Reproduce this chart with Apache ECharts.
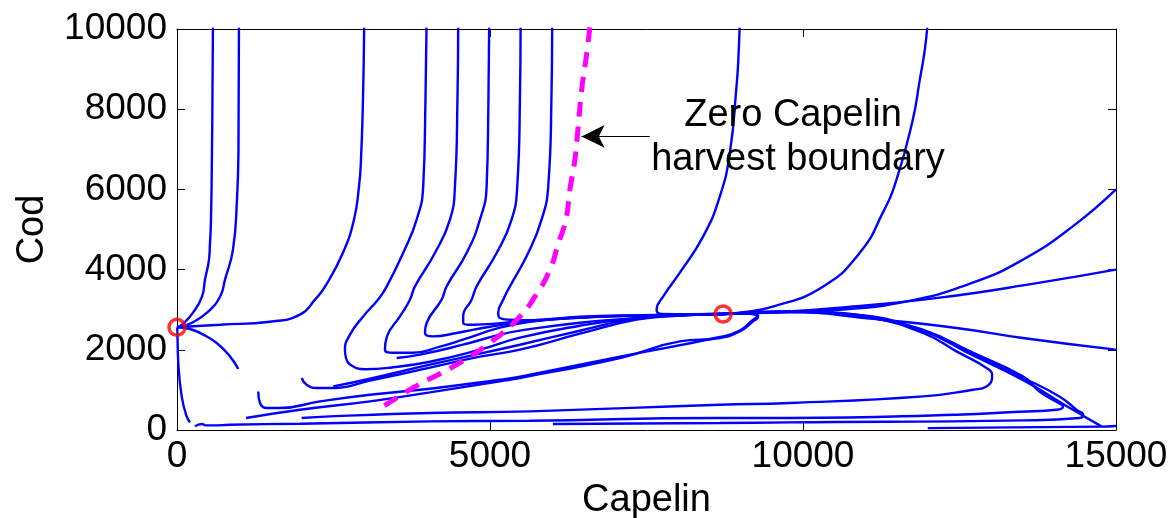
<!DOCTYPE html>
<html>
<head>
<meta charset="utf-8">
<script src="https://cdn.jsdelivr.net/npm/echarts/dist/echarts.min.js"></script>
<style>
  html, body { margin: 0; padding: 0; background: #ffffff; }
  #chart { width: 1171px; height: 518px; }
</style>
</head>
<body>
<div id="chart"></div>
<script>
// Axis ranges and tick steps
const capelinTicks = [0, 5000, 10000, 15000];
const codTicks = [0, 2000, 4000, 6000, 8000, 10000];

// Equilibrium points [capelin, cod]
const equilibria = [[0, 2560], [8724, 2893]];

// Zero capelin harvest boundary
const boundary = [[6596, 10040], [6532, 9235], [6468, 8537], [6404, 7489], [6356, 6741], [6276, 5993],
  [6212, 5245], [6085, 4621], [5957, 3998], [5717, 3324], [5430, 2751], [4999, 2177], [4520, 1678],
  [4200, 1404], [3801, 1080], [3290, 581]];

// Annotation arrow (tail, head) in data units
const arrowTail = [7554, 7322];
const arrowHead = [6463, 7322];

// Trajectories approaching the left equilibrium
const trajA = [[575, 10230], [567, 8490], [559, 6990], [543, 5245], [525, 4600], [511, 4247], [447, 3749], [399, 3324], [256, 2926], [80, 2626], [0, 2560]];
const trajB = [[990, 10230], [982, 6990], [958, 5744], [894, 4497], [767, 3749], [687, 3324], [479, 2926], [240, 2676], [48, 2576], [0, 2560]];
const trajC = [[2991, 10230], [2971, 8238], [2939, 6741], [2907, 6068], [2827, 5245], [2651, 4422], [2364, 3574], [2204, 3250], [1964, 2876], [1485, 2701], [687, 2626], [128, 2576], [0, 2560]];
const trajD = [[979, 1521], [846, 1836], [634, 2170], [420, 2377], [208, 2519], [0, 2560]];
const trajE = [[0, 2560], [5, 2501], [21, 1671], [75, 838], [155, 339], [208, 190]];

// Trajectories descending from high cod and bending toward the right equilibrium
const trajU1 = [[3988, 10233], [3969, 8238], [3933, 6076], [3828, 5245], [3614, 4422], [3349, 3574], [3210, 3250], [2971, 2826], [2763, 2377], [2683, 2003], [2699, 1803], [2795, 1604], [3002, 1516], [3402, 1554], [4040, 1703], [4839, 2003], [5478, 2302], [6436, 2601], [7234, 2776], [8033, 2863], [8724, 2893]];
const trajU2 = [[4492, 10233], [4480, 8238], [4440, 6076], [4360, 5245], [4120, 4414], [3801, 3581], [3721, 3250], [3561, 2833], [3354, 2334], [3322, 2003], [3450, 1928], [3769, 1928], [4200, 2077], [4567, 2252], [5158, 2551], [5637, 2701], [6436, 2801], [7394, 2851], [8724, 2893]];
const trajU3 = [[4988, 10233], [4975, 8238], [4946, 6076], [4839, 5245], [4626, 4414], [4307, 3581], [4227, 3250], [3988, 2669], [3961, 2427], [4088, 2334], [4467, 2419], [4999, 2576], [5637, 2708], [6436, 2801], [7394, 2851], [8724, 2893]];
const trajU4 = [[5489, 10233], [5478, 8238], [5435, 6076], [5345, 5245], [5106, 4414], [4786, 3581], [4706, 3250], [4572, 2833], [4572, 2669], [4732, 2626], [5206, 2669], [5637, 2726], [6436, 2813], [7394, 2856], [8724, 2893]];
const trajU5 = [[5994, 10233], [5981, 8238], [5930, 6076], [5824, 5245], [5610, 4414], [5318, 3581], [5211, 3250], [5131, 2918], [5158, 2793], [5318, 2751], [5637, 2738], [6436, 2826], [7394, 2863], [8724, 2893]];
const trajV = [[8991, 10233], [8967, 9235], [8938, 8569], [8831, 6908], [8672, 5826], [8405, 4828], [8033, 3923], [7767, 3332], [7661, 3000], [7741, 2893], [8193, 2888], [8724, 2893]];

// Trajectories rising from low cod toward the right equilibrium
const trajS1 = [[3509, 1796], [3881, 1878], [4567, 2127], [5158, 2377], [5478, 2477], [6436, 2676], [7341, 2788], [8033, 2861], [8724, 2893]];
const trajA1 = [[1991, 1297], [2071, 1130], [2231, 1047], [2496, 1047], [3082, 1230], [4040, 1554], [4839, 1828], [5478, 2003], [6436, 2402], [7341, 2751], [8033, 2856], [8724, 2893]];
const trajA2 = [[2496, 1087], [3082, 1279], [4040, 1629], [4839, 1903], [5478, 2127], [6436, 2476], [7234, 2751], [8033, 2861], [8724, 2893]];
const trajC1 = [[1298, 963], [1326, 673], [1432, 549], [1645, 549], [2284, 713], [3082, 880], [4040, 1030], [5158, 1254], [5478, 1329], [7075, 1828], [8672, 2319], [8991, 2480], [9183, 2726], [9263, 2826], [8991, 2903], [8724, 2893]];
const trajD1 = [[1102, 299], [1964, 506], [3082, 713], [4040, 938], [5158, 1217], [5478, 1297], [7075, 1796], [8033, 2210], [8672, 2294], [8991, 2460], [9203, 2708], [9283, 2818], [9231, 2901], [8991, 2908], [8724, 2893]];

// Long trajectories near the capelin axis, looping back along the lower right
const trajM = [[1991, 299], [2443, 339], [4040, 424], [5637, 464], [8672, 631], [9790, 673], [11918, 838], [12717, 1005], [12931, 1087], [13021, 1337], [12973, 1504], [12452, 1960], [11918, 2419], [11120, 2793], [10317, 2926], [9790, 2958], [8724, 2893]];
const trajN = [[287, 90], [394, 150], [474, 115], [580, 115], [846, 132], [1964, 157], [4040, 214], [5637, 232], [8672, 299], [9790, 299], [12452, 382], [13463, 456], [14049, 506], [14154, 589], [14102, 656], [13782, 955], [13511, 1337], [12712, 1928], [11914, 2501], [11115, 2801], [10855, 2876], [10317, 2933], [9790, 2958], [8724, 2893]];
const trajO = [[6005, 150], [8672, 175], [9790, 190], [13515, 239], [14421, 299], [14474, 382], [14368, 506], [14102, 830], [13511, 1304], [12712, 1890], [11914, 2476], [11115, 2790], [10317, 2926], [9790, 2950], [8724, 2893]];
const trajSep = [[8724, 2893], [9790, 2958], [10855, 2876], [11918, 2470], [12717, 1860], [13511, 1250], [14154, 650], [14474, 357], [14767, 90]];
const trajP = [[11993, 47], [14740, 85], [15000, 100]];

// Trajectories leaving the right equilibrium toward large stocks
const trajR1 = [[8724, 2893], [8991, 2926], [9518, 3075], [10317, 3574], [10908, 4422], [11275, 5420], [11494, 6243], [11754, 7739], [11866, 8737], [11946, 9485], [11995, 10230]];
const trajR2 = [[8724, 2893], [9518, 2926], [10588, 3000], [11654, 3207], [12712, 3674], [13511, 4247], [14309, 5078], [14996, 5993]];
const trajR3 = [[8724, 2893], [9518, 2933], [10588, 3050], [12185, 3300], [13782, 3674], [14996, 3998]];
const trajR4 = [[8724, 2893], [9790, 2940], [11115, 2770], [12452, 2544], [13511, 2294], [14996, 2003]];

const trajectories = [trajA, trajB, trajC, trajD, trajE, trajU1, trajU2, trajU3, trajU4, trajU5, trajV,
  trajS1, trajA1, trajA2, trajC1, trajD1, trajM, trajN, trajO, trajSep, trajP, trajR1, trajR2, trajR3, trajR4];

const FONT = '"Liberation Sans", Arial, Helvetica, sans-serif';
const plainNumber = function (v) { return String(v); };

const baseX = {
  type: 'value',
  min: capelinTicks[0],
  max: capelinTicks[capelinTicks.length - 1],
  interval: capelinTicks[1] - capelinTicks[0],
  splitLine: { show: false },
  axisLine: { onZero: false, lineStyle: { color: '#000', width: 1 } },
  axisTick: { inside: true, length: 8, lineStyle: { color: '#000', width: 1 } }
};
const baseY = {
  type: 'value',
  min: codTicks[0],
  max: codTicks[codTicks.length - 1],
  interval: codTicks[1] - codTicks[0],
  splitLine: { show: false },
  axisLine: { onZero: false, lineStyle: { color: '#000', width: 1 } },
  axisTick: { inside: true, length: 8, lineStyle: { color: '#000', width: 1 } }
};

const series = trajectories.map(function (pts) {
  return {
    type: 'line',
    data: pts,
    symbol: 'none',
    smooth: 0.5,
    clip: true,
    silent: true,
    lineStyle: { color: '#0000ff', width: 2.4 },
    z: 2
  };
});

series.push({
  type: 'line',
  data: boundary,
  symbol: 'none',
  smooth: 0.5,
  clip: true,
  silent: true,
  lineStyle: { color: '#ff00ff', width: 5, type: [15, 10] },
  z: 3,
  markLine: {
    silent: true,
    animation: false,
    symbol: ['none', 'arrow'],
    symbolSize: [17, 23],
    label: { show: false },
    lineStyle: { color: '#000', width: 1, type: 'solid' },
    itemStyle: { color: '#000' },
    data: [[{ coord: arrowTail }, { coord: arrowHead }]]
  }
});

series.push({
  type: 'scatter',
  data: equilibria,
  symbol: 'circle',
  symbolSize: 16,
  silent: true,
  itemStyle: { color: 'rgba(0,0,0,0)', borderColor: '#ff0000', borderWidth: 3.5 },
  z: 5
});

const chart = echarts.init(document.getElementById('chart'), null, { renderer: 'canvas' });
chart.setOption({
  animation: false,
  backgroundColor: '#ffffff',
  grid: { left: 177, right: 55, top: 29, bottom: 88, containLabel: false, outerBoundsMode: 'none' },
  xAxis: [
    Object.assign({}, baseX, {
      position: 'bottom',
      name: 'Capelin',
      nameLocation: 'middle',
      nameGap: 52,
      nameTextStyle: { fontSize: 38, color: '#000', fontFamily: FONT },
      axisLabel: { fontSize: 37, color: '#000', fontFamily: FONT, margin: 8, formatter: plainNumber }
    }),
    Object.assign({}, baseX, { position: 'top', axisLabel: { show: false } })
  ],
  yAxis: [
    Object.assign({}, baseY, {
      position: 'left',
      name: 'Cod',
      nameLocation: 'middle',
      nameGap: 125,
      nameTextStyle: { fontSize: 38, color: '#000', fontFamily: FONT },
      axisLabel: { fontSize: 37, color: '#000', fontFamily: FONT, margin: 10, formatter: plainNumber }
    }),
    Object.assign({}, baseY, { position: 'right', axisLabel: { show: false } })
  ],
  graphic: [
    {
      type: 'text',
      x: 793, y: 116,
      style: { text: 'Zero Capelin', font: '38px ' + FONT, fill: '#000', align: 'center', verticalAlign: 'middle' },
      z: 10
    },
    {
      type: 'text',
      x: 798, y: 160,
      style: { text: 'harvest boundary', font: '38px ' + FONT, fill: '#000', align: 'center', verticalAlign: 'middle' },
      z: 10
    }
  ],
  series: series
});
</script>
</body>
</html>
